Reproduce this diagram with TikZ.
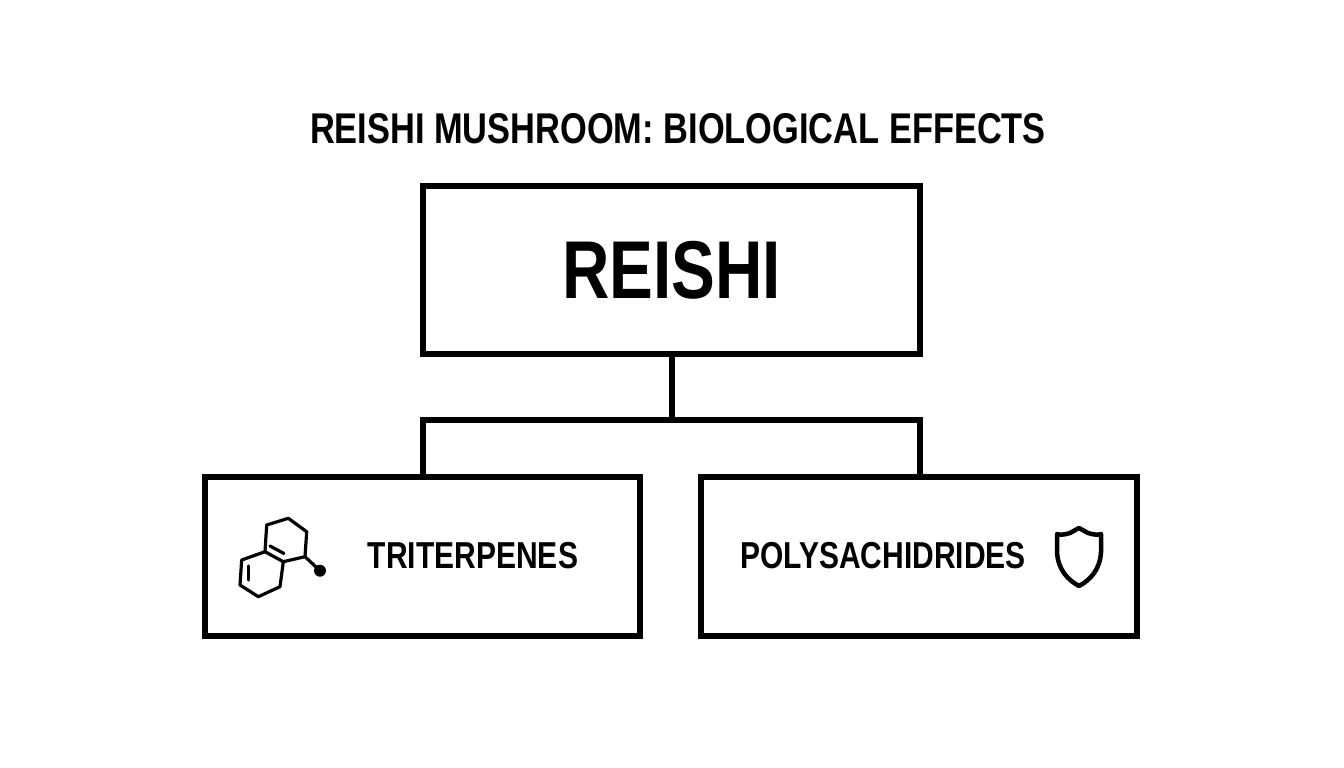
\documentclass[tikz,border=0pt]{standalone}
\usepackage{fontspec}
\setmainfont{Liberation Sans}[FakeStretch=0.8]
\begin{document}
\begin{tikzpicture}[x=1pt,y=-1pt,
  box/.style={draw,line width=6pt,inner sep=0pt},
  conn/.style={line width=6pt},
  ico/.style={line width=3.2pt,line join=round,line cap=round}]
\useasboundingbox[fill=white] (0,0) rectangle (1344,768);
\node (title) at (678,129) {\fontsize{43}{43}\selectfont\bfseries REISHI MUSHROOM: BIOLOGICAL EFFECTS};
\node[box,minimum width=497pt,minimum height=168pt] (top) at (671.5,270) {\fontsize{82}{82}\selectfont\bfseries REISHI};
\node[box,minimum width=435pt,minimum height=159pt] (left) at (422.5,556.5) {};
\node[box,minimum width=436pt,minimum height=159pt] (right) at (919,556.5) {};
\node (lt) at (473,556) {\fontsize{37.5}{37.5}\selectfont\bfseries TRITERPENES};
\node (rt) at (883,556) {\fontsize{37.5}{37.5}\selectfont\bfseries POLYSACHIDRIDES};
\coordinate (j) at (671.5,420);
\coordinate (jl) at (423,420);
\coordinate (jr) at (920,420);
\draw[conn] (top.south) -- (j);
\draw[conn,line cap=rect] (jl) -- (jr);
\draw[conn] (jl) -- (jl |- left.north);
\draw[conn] (jr) -- (jr |- right.north);
% molecule
\draw[ico] (266.7,525) -- (288.3,518.3) -- (306.7,531.7) -- (305,556.7) -- (283.3,561.7) -- (265,551.7) -- cycle;
\draw[ico] (265,551.7) -- (241.7,560) -- (240,585) -- (258.3,596.7) -- (280,586.7) -- (283.3,561.7);
\draw[ico] (270,546) -- (284,553.5);
\draw[ico] (248.5,566) -- (248.5,580);
\draw[ico] (305,556.7) -- (320,570.7);
\fill (320,570.7) circle (6pt);
% shield
\draw[line width=4.5pt,line join=round] (1079,528) -- (1088,533) .. controls (1094,535) and (1099,535) .. (1101,534)
  -- (1101,552) .. controls (1100,570) and (1090,580) .. (1079,586)
  .. controls (1068,580) and (1058,570) .. (1057,552) -- (1057,534)
  .. controls (1059,535) and (1064,535) .. (1070,533) -- cycle;
\end{tikzpicture}
\end{document}
